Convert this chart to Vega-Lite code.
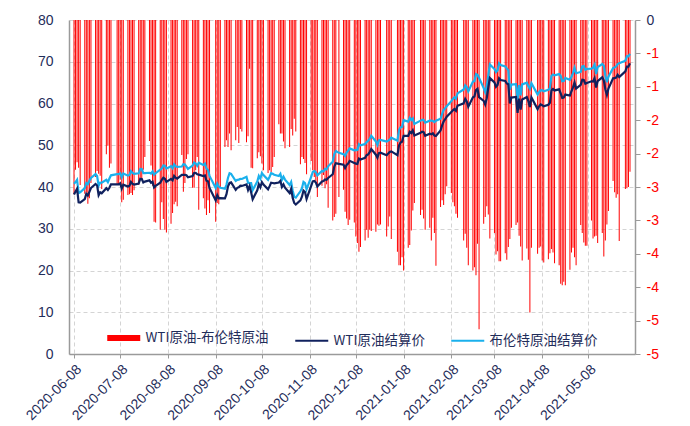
{
  "$schema": "https://vega.github.io/schema/vega-lite/v6.json",
  "width": 566,
  "height": 334,
  "autosize": "none",
  "padding": {"left": 69, "top": 20, "right": 55, "bottom": 72},
  "background": "white",
  "config": {
    "view": {"stroke": null},
    "font": "Liberation Sans",
    "locale": {"number": {"decimal": ".", "thousands": ",", "grouping": [3], "currency": ["$", ""], "minus": "-"}}
  },
  "data": {"values": [
    {"d":"2020-06-08","w":38.19,"b":40.80,"s":-2.61},
    {"d":"2020-06-09","w":38.94,"b":41.18,"s":-2.24},
    {"d":"2020-06-10","w":39.60,"b":41.73,"s":-2.13},
    {"d":"2020-06-11","w":36.34,"b":38.55,"s":-2.21},
    {"d":"2020-06-12","w":36.26,"b":38.73,"s":-2.47},
    {"d":"2020-06-15","w":37.12,"b":39.72,"s":-2.60},
    {"d":"2020-06-16","w":38.38,"b":40.96,"s":-2.58},
    {"d":"2020-06-17","w":37.96,"b":40.71,"s":-2.75},
    {"d":"2020-06-18","w":38.84,"b":41.51,"s":-2.67},
    {"d":"2020-06-19","w":39.75,"b":42.19,"s":-2.44},
    {"d":"2020-06-22","w":40.73,"b":43.08,"s":-2.35},
    {"d":"2020-06-23","w":40.37,"b":42.63,"s":-2.26},
    {"d":"2020-06-24","w":38.01,"b":40.31,"s":-2.30},
    {"d":"2020-06-25","w":38.72,"b":41.05,"s":-2.33},
    {"d":"2020-06-26","w":38.49,"b":41.02,"s":-2.53},
    {"d":"2020-06-29","w":39.70,"b":41.71,"s":-2.01},
    {"d":"2020-06-30","w":39.27,"b":41.15,"s":-1.88},
    {"d":"2020-07-01","w":39.82,"b":42.03,"s":-2.21},
    {"d":"2020-07-02","w":40.65,"b":42.80,"s":-2.15},
    {"d":"2020-07-06","w":40.63,"b":43.10,"s":-2.47},
    {"d":"2020-07-07","w":40.62,"b":43.08,"s":-2.46},
    {"d":"2020-07-08","w":40.90,"b":43.29,"s":-2.39},
    {"d":"2020-07-09","w":39.62,"b":42.35,"s":-2.73},
    {"d":"2020-07-10","w":40.55,"b":43.24,"s":-2.69},
    {"d":"2020-07-13","w":40.10,"b":42.72,"s":-2.62},
    {"d":"2020-07-14","w":40.29,"b":42.90,"s":-2.61},
    {"d":"2020-07-15","w":41.20,"b":43.79,"s":-2.59},
    {"d":"2020-07-16","w":40.75,"b":43.37,"s":-2.62},
    {"d":"2020-07-17","w":40.59,"b":43.14,"s":-2.55},
    {"d":"2020-07-20","w":40.81,"b":43.28,"s":-2.47},
    {"d":"2020-07-21","w":41.96,"b":44.32,"s":-2.36},
    {"d":"2020-07-22","w":41.90,"b":44.29,"s":-2.39},
    {"d":"2020-07-23","w":41.07,"b":43.31,"s":-2.24},
    {"d":"2020-07-24","w":41.29,"b":43.34,"s":-2.05},
    {"d":"2020-07-27","w":41.60,"b":43.41,"s":-1.81},
    {"d":"2020-07-28","w":41.04,"b":43.22,"s":-2.18},
    {"d":"2020-07-29","w":41.27,"b":43.75,"s":-2.48},
    {"d":"2020-07-30","w":39.92,"b":42.94,"s":-3.02},
    {"d":"2020-07-31","w":40.27,"b":43.30,"s":-3.03},
    {"d":"2020-08-03","w":41.01,"b":44.15,"s":-3.14},
    {"d":"2020-08-04","w":41.70,"b":44.43,"s":-2.73},
    {"d":"2020-08-05","w":42.19,"b":45.17,"s":-2.98},
    {"d":"2020-08-06","w":41.95,"b":45.09,"s":-3.14},
    {"d":"2020-08-07","w":41.22,"b":44.40,"s":-3.18},
    {"d":"2020-08-10","w":41.94,"b":44.99,"s":-3.05},
    {"d":"2020-08-11","w":41.61,"b":44.50,"s":-2.89},
    {"d":"2020-08-12","w":42.67,"b":45.43,"s":-2.76},
    {"d":"2020-08-13","w":42.24,"b":44.96,"s":-2.72},
    {"d":"2020-08-14","w":42.01,"b":44.80,"s":-2.79},
    {"d":"2020-08-17","w":42.89,"b":44.91,"s":-2.02},
    {"d":"2020-08-18","w":42.89,"b":45.46,"s":-2.57},
    {"d":"2020-08-19","w":42.93,"b":45.37,"s":-2.44},
    {"d":"2020-08-20","w":42.82,"b":44.90,"s":-2.08},
    {"d":"2020-08-21","w":42.34,"b":44.35,"s":-2.01},
    {"d":"2020-08-24","w":42.62,"b":45.13,"s":-2.51},
    {"d":"2020-08-25","w":43.35,"b":45.86,"s":-2.51},
    {"d":"2020-08-26","w":43.39,"b":45.64,"s":-2.25},
    {"d":"2020-08-27","w":43.04,"b":45.09,"s":-2.05},
    {"d":"2020-08-28","w":42.97,"b":45.81,"s":-2.84},
    {"d":"2020-08-31","w":42.61,"b":45.28,"s":-2.67},
    {"d":"2020-09-01","w":42.76,"b":45.58,"s":-2.82},
    {"d":"2020-09-02","w":41.51,"b":44.43,"s":-2.92},
    {"d":"2020-09-03","w":41.37,"b":44.07,"s":-2.70},
    {"d":"2020-09-04","w":39.77,"b":42.66,"s":-2.89},
    {"d":"2020-09-08","w":36.76,"b":39.78,"s":-3.02},
    {"d":"2020-09-09","w":38.05,"b":40.79,"s":-2.74},
    {"d":"2020-09-10","w":37.30,"b":40.06,"s":-2.76},
    {"d":"2020-09-11","w":37.33,"b":39.83,"s":-2.50},
    {"d":"2020-09-14","w":37.26,"b":39.61,"s":-1.90},
    {"d":"2020-09-15","w":38.28,"b":40.53,"s":-1.80},
    {"d":"2020-09-16","w":40.16,"b":42.22,"s":-1.90},
    {"d":"2020-09-17","w":40.97,"b":43.30,"s":-1.70},
    {"d":"2020-09-18","w":41.11,"b":43.15,"s":-1.95},
    {"d":"2020-09-21","w":39.31,"b":41.44,"s":-1.80},
    {"d":"2020-09-22","w":39.80,"b":41.72,"s":-1.60},
    {"d":"2020-09-23","w":39.93,"b":41.77,"s":-1.84},
    {"d":"2020-09-24","w":40.31,"b":41.94,"s":-1.63},
    {"d":"2020-09-25","w":40.25,"b":41.92,"s":-1.67},
    {"d":"2020-09-28","w":40.60,"b":42.43,"s":-1.83},
    {"d":"2020-09-29","w":39.29,"b":41.03,"s":-1.74},
    {"d":"2020-09-30","w":40.22,"b":40.95,"s":-0.73},
    {"d":"2020-10-01","w":38.72,"b":40.93,"s":-2.21},
    {"d":"2020-10-02","w":37.05,"b":39.27,"s":-2.22},
    {"d":"2020-10-05","w":39.22,"b":41.29,"s":-2.07},
    {"d":"2020-10-06","w":40.67,"b":42.65,"s":-1.98},
    {"d":"2020-10-07","w":39.95,"b":41.99,"s":-2.04},
    {"d":"2020-10-08","w":41.19,"b":43.34,"s":-2.15},
    {"d":"2020-10-09","w":40.60,"b":42.85,"s":-2.25},
    {"d":"2020-10-12","w":39.43,"b":41.72,"s":-2.29},
    {"d":"2020-10-13","w":40.20,"b":42.45,"s":-2.25},
    {"d":"2020-10-14","w":41.04,"b":43.32,"s":-2.28},
    {"d":"2020-10-15","w":40.96,"b":43.16,"s":-2.20},
    {"d":"2020-10-16","w":40.88,"b":42.93,"s":-2.05},
    {"d":"2020-10-19","w":41.06,"b":42.62,"s":-1.56},
    {"d":"2020-10-20","w":41.46,"b":43.16,"s":-1.70},
    {"d":"2020-10-21","w":40.03,"b":41.73,"s":-1.70},
    {"d":"2020-10-22","w":40.64,"b":42.46,"s":-1.82},
    {"d":"2020-10-23","w":39.85,"b":41.77,"s":-1.92},
    {"d":"2020-10-26","w":38.56,"b":40.46,"s":-1.90},
    {"d":"2020-10-27","w":39.57,"b":41.20,"s":-1.63},
    {"d":"2020-10-28","w":37.39,"b":39.12,"s":-1.73},
    {"d":"2020-10-29","w":36.17,"b":37.65,"s":-1.48},
    {"d":"2020-10-30","w":35.79,"b":37.46,"s":-1.67},
    {"d":"2020-11-02","w":36.81,"b":38.97,"s":-2.16},
    {"d":"2020-11-03","w":37.66,"b":39.71,"s":-2.05},
    {"d":"2020-11-04","w":39.15,"b":41.23,"s":-2.08},
    {"d":"2020-11-05","w":38.79,"b":40.93,"s":-2.14},
    {"d":"2020-11-06","w":37.14,"b":39.45,"s":-2.31},
    {"d":"2020-11-09","w":40.29,"b":42.40,"s":-2.11},
    {"d":"2020-11-10","w":41.36,"b":43.61,"s":-2.25},
    {"d":"2020-11-11","w":41.45,"b":43.80,"s":-2.35},
    {"d":"2020-11-12","w":41.12,"b":43.53,"s":-2.41},
    {"d":"2020-11-13","w":40.13,"b":42.78,"s":-2.65},
    {"d":"2020-11-16","w":41.34,"b":43.82,"s":-2.48},
    {"d":"2020-11-17","w":41.43,"b":43.75,"s":-2.32},
    {"d":"2020-11-18","w":41.82,"b":44.34,"s":-2.52},
    {"d":"2020-11-19","w":41.74,"b":44.20,"s":-2.46},
    {"d":"2020-11-20","w":42.15,"b":44.96,"s":-2.81},
    {"d":"2020-11-23","w":43.06,"b":46.06,"s":-3.00},
    {"d":"2020-11-24","w":44.91,"b":47.86,"s":-2.95},
    {"d":"2020-11-25","w":45.71,"b":48.61,"s":-2.90},
    {"d":"2020-11-27","w":45.53,"b":48.18,"s":-2.65},
    {"d":"2020-11-30","w":45.34,"b":47.88,"s":-2.54},
    {"d":"2020-12-01","w":44.55,"b":47.42,"s":-2.87},
    {"d":"2020-12-02","w":45.28,"b":48.25,"s":-2.97},
    {"d":"2020-12-03","w":45.64,"b":48.71,"s":-3.07},
    {"d":"2020-12-04","w":46.26,"b":49.25,"s":-2.99},
    {"d":"2020-12-07","w":45.76,"b":48.79,"s":-3.03},
    {"d":"2020-12-08","w":45.60,"b":48.84,"s":-3.24},
    {"d":"2020-12-09","w":45.52,"b":48.86,"s":-3.34},
    {"d":"2020-12-10","w":46.78,"b":50.25,"s":-3.47},
    {"d":"2020-12-11","w":46.57,"b":49.97,"s":-3.40},
    {"d":"2020-12-14","w":46.99,"b":50.29,"s":-3.30},
    {"d":"2020-12-15","w":47.62,"b":50.76,"s":-3.14},
    {"d":"2020-12-16","w":47.82,"b":51.08,"s":-3.26},
    {"d":"2020-12-17","w":48.36,"b":51.50,"s":-3.14},
    {"d":"2020-12-18","w":49.10,"b":52.26,"s":-3.16},
    {"d":"2020-12-21","w":47.74,"b":50.91,"s":-3.17},
    {"d":"2020-12-22","w":47.02,"b":50.08,"s":-3.06},
    {"d":"2020-12-23","w":48.12,"b":51.20,"s":-3.08},
    {"d":"2020-12-24","w":48.23,"b":51.29,"s":-3.06},
    {"d":"2020-12-28","w":47.62,"b":50.86,"s":-3.24},
    {"d":"2020-12-29","w":48.00,"b":51.09,"s":-3.09},
    {"d":"2020-12-30","w":48.40,"b":51.34,"s":-2.94},
    {"d":"2020-12-31","w":48.52,"b":51.80,"s":-3.28},
    {"d":"2021-01-04","w":47.62,"b":51.09,"s":-3.47},
    {"d":"2021-01-05","w":49.93,"b":53.60,"s":-3.67},
    {"d":"2021-01-06","w":50.63,"b":54.30,"s":-3.67},
    {"d":"2021-01-07","w":50.83,"b":54.38,"s":-3.55},
    {"d":"2021-01-08","w":52.24,"b":55.99,"s":-3.75},
    {"d":"2021-01-11","w":52.25,"b":55.66,"s":-3.41},
    {"d":"2021-01-12","w":53.21,"b":56.58,"s":-3.37},
    {"d":"2021-01-13","w":52.91,"b":56.06,"s":-3.15},
    {"d":"2021-01-14","w":53.57,"b":56.42,"s":-2.85},
    {"d":"2021-01-15","w":52.36,"b":55.10,"s":-2.74},
    {"d":"2021-01-19","w":52.98,"b":55.90,"s":-2.92},
    {"d":"2021-01-20","w":53.24,"b":56.08,"s":-2.84},
    {"d":"2021-01-21","w":53.13,"b":56.10,"s":-2.97},
    {"d":"2021-01-22","w":52.27,"b":55.41,"s":-3.14},
    {"d":"2021-01-25","w":52.77,"b":55.88,"s":-3.11},
    {"d":"2021-01-26","w":52.61,"b":55.91,"s":-3.30},
    {"d":"2021-01-27","w":52.85,"b":55.81,"s":-2.96},
    {"d":"2021-01-28","w":52.34,"b":55.53,"s":-3.19},
    {"d":"2021-01-29","w":52.20,"b":55.88,"s":-3.68},
    {"d":"2021-02-01","w":53.55,"b":56.35,"s":-2.80},
    {"d":"2021-02-02","w":54.76,"b":57.46,"s":-2.70},
    {"d":"2021-02-03","w":55.69,"b":58.46,"s":-2.77},
    {"d":"2021-02-04","w":56.23,"b":58.84,"s":-2.61},
    {"d":"2021-02-05","w":56.85,"b":59.34,"s":-2.49},
    {"d":"2021-02-08","w":57.97,"b":60.56,"s":-2.59},
    {"d":"2021-02-09","w":58.36,"b":61.09,"s":-2.73},
    {"d":"2021-02-10","w":58.68,"b":61.47,"s":-2.79},
    {"d":"2021-02-11","w":58.24,"b":61.14,"s":-2.90},
    {"d":"2021-02-12","w":59.47,"b":62.43,"s":-2.96},
    {"d":"2021-02-16","w":60.05,"b":63.35,"s":-3.30},
    {"d":"2021-02-17","w":61.14,"b":64.34,"s":-3.20},
    {"d":"2021-02-18","w":60.52,"b":63.93,"s":-3.41},
    {"d":"2021-02-19","w":59.24,"b":62.91,"s":-3.67},
    {"d":"2021-02-22","w":61.49,"b":65.24,"s":-3.75},
    {"d":"2021-02-23","w":61.67,"b":65.37,"s":-3.70},
    {"d":"2021-02-24","w":63.22,"b":67.04,"s":-3.82},
    {"d":"2021-02-25","w":63.53,"b":66.88,"s":-3.35},
    {"d":"2021-02-26","w":61.50,"b":66.13,"s":-4.63},
    {"d":"2021-03-01","w":60.64,"b":63.69,"s":-3.05},
    {"d":"2021-03-02","w":59.75,"b":62.70,"s":-2.95},
    {"d":"2021-03-03","w":61.28,"b":64.07,"s":-2.79},
    {"d":"2021-03-04","w":63.83,"b":66.74,"s":-2.91},
    {"d":"2021-03-05","w":66.09,"b":69.36,"s":-3.27},
    {"d":"2021-03-08","w":65.05,"b":68.24,"s":-3.19},
    {"d":"2021-03-09","w":64.01,"b":67.52,"s":-3.51},
    {"d":"2021-03-10","w":64.44,"b":67.90,"s":-3.46},
    {"d":"2021-03-11","w":66.02,"b":69.63,"s":-3.61},
    {"d":"2021-03-12","w":65.61,"b":69.22,"s":-3.61},
    {"d":"2021-03-15","w":65.39,"b":68.88,"s":-3.49},
    {"d":"2021-03-16","w":64.80,"b":68.39,"s":-3.59},
    {"d":"2021-03-17","w":64.60,"b":68.00,"s":-3.40},
    {"d":"2021-03-18","w":60.00,"b":63.28,"s":-3.28},
    {"d":"2021-03-19","w":61.42,"b":64.53,"s":-3.11},
    {"d":"2021-03-22","w":61.55,"b":64.62,"s":-3.07},
    {"d":"2021-03-23","w":57.76,"b":60.79,"s":-3.03},
    {"d":"2021-03-24","w":61.18,"b":64.41,"s":-3.23},
    {"d":"2021-03-25","w":58.56,"b":61.95,"s":-3.39},
    {"d":"2021-03-26","w":60.97,"b":64.57,"s":-3.60},
    {"d":"2021-03-29","w":61.56,"b":64.98,"s":-3.42},
    {"d":"2021-03-30","w":60.55,"b":64.14,"s":-3.59},
    {"d":"2021-03-31","w":59.16,"b":63.54,"s":-4.38},
    {"d":"2021-04-01","w":61.45,"b":64.86,"s":-3.41},
    {"d":"2021-04-05","w":58.65,"b":62.15,"s":-3.50},
    {"d":"2021-04-06","w":59.33,"b":62.74,"s":-3.41},
    {"d":"2021-04-07","w":59.77,"b":63.16,"s":-3.39},
    {"d":"2021-04-08","w":59.60,"b":63.20,"s":-3.60},
    {"d":"2021-04-09","w":59.32,"b":62.95,"s":-3.63},
    {"d":"2021-04-12","w":59.70,"b":63.28,"s":-3.58},
    {"d":"2021-04-13","w":60.18,"b":63.67,"s":-3.49},
    {"d":"2021-04-14","w":63.15,"b":66.58,"s":-3.43},
    {"d":"2021-04-15","w":63.46,"b":66.94,"s":-3.48},
    {"d":"2021-04-16","w":63.13,"b":66.77,"s":-3.64},
    {"d":"2021-04-19","w":63.38,"b":67.05,"s":-3.67},
    {"d":"2021-04-20","w":62.44,"b":66.57,"s":-3.95},
    {"d":"2021-04-21","w":61.35,"b":65.32,"s":-3.97},
    {"d":"2021-04-22","w":61.43,"b":65.40,"s":-3.92},
    {"d":"2021-04-23","w":62.14,"b":66.11,"s":-3.97},
    {"d":"2021-04-26","w":61.91,"b":65.65,"s":-3.74},
    {"d":"2021-04-27","w":62.94,"b":66.42,"s":-3.48},
    {"d":"2021-04-28","w":63.86,"b":67.27,"s":-3.41},
    {"d":"2021-04-29","w":65.01,"b":68.56,"s":-3.55},
    {"d":"2021-04-30","w":63.58,"b":67.25,"s":-3.67},
    {"d":"2021-05-03","w":64.49,"b":67.56,"s":-3.07},
    {"d":"2021-05-04","w":65.69,"b":68.88,"s":-3.19},
    {"d":"2021-05-05","w":65.63,"b":68.96,"s":-3.33},
    {"d":"2021-05-06","w":64.71,"b":68.09,"s":-3.38},
    {"d":"2021-05-07","w":64.90,"b":68.28,"s":-3.38},
    {"d":"2021-05-10","w":65.32,"b":68.32,"s":-3.00},
    {"d":"2021-05-11","w":65.28,"b":68.55,"s":-3.27},
    {"d":"2021-05-12","w":66.08,"b":69.32,"s":-3.24},
    {"d":"2021-05-13","w":63.82,"b":67.05,"s":-3.23},
    {"d":"2021-05-14","w":65.37,"b":68.71,"s":-3.34},
    {"d":"2021-05-17","w":66.27,"b":69.46,"s":-3.19},
    {"d":"2021-05-18","w":65.49,"b":69.03,"s":-3.54},
    {"d":"2021-05-19","w":63.36,"b":66.66,"s":-3.30},
    {"d":"2021-05-20","w":62.05,"b":65.11,"s":-3.06},
    {"d":"2021-05-21","w":63.58,"b":66.44,"s":-2.86},
    {"d":"2021-05-24","w":66.05,"b":68.46,"s":-2.41},
    {"d":"2021-05-25","w":66.07,"b":68.65,"s":-2.58},
    {"d":"2021-05-26","w":66.21,"b":68.87,"s":-2.66},
    {"d":"2021-05-27","w":66.85,"b":69.46,"s":-2.61},
    {"d":"2021-05-28","w":66.32,"b":69.63,"s":-3.31},
    {"d":"2021-06-01","w":67.72,"b":70.25,"s":-2.53},
    {"d":"2021-06-02","w":68.83,"b":71.35,"s":-2.52},
    {"d":"2021-06-03","w":68.81,"b":71.31,"s":-2.50},
    {"d":"2021-06-04","w":69.62,"b":71.89,"s":-2.27}
  ]},
  "encoding": {
    "x": {
      "field": "d", "type": "temporal",
      "scale": {"type": "utc", "domain": [{"year": 2020, "month": 6, "date": 8, "utc": true}, {"year": 2021, "month": 6, "date": 4, "utc": true}]},
      "axis": {
        "title": null,
        "format": "%Y-%m-%d",
        "values": [
          {"year": 2020, "month": 6, "date": 8, "utc": true},
          {"year": 2020, "month": 7, "date": 8, "utc": true},
          {"year": 2020, "month": 8, "date": 8, "utc": true},
          {"year": 2020, "month": 9, "date": 8, "utc": true},
          {"year": 2020, "month": 10, "date": 8, "utc": true},
          {"year": 2020, "month": 11, "date": 8, "utc": true},
          {"year": 2020, "month": 12, "date": 8, "utc": true},
          {"year": 2021, "month": 1, "date": 8, "utc": true},
          {"year": 2021, "month": 2, "date": 8, "utc": true},
          {"year": 2021, "month": 3, "date": 8, "utc": true},
          {"year": 2021, "month": 4, "date": 8, "utc": true},
          {"year": 2021, "month": 5, "date": 8, "utc": true}
        ],
        "labelAngle": -45,
        "labelOverlap": false,
        "labelFontSize": 14,
        "labelColor": "#1f2d5a",
        "labelPadding": 4,
        "grid": true,
        "gridColor": "#d4d4d4",
        "gridDash": [4, 3],
        "tickColor": "#9a9a9a",
        "tickSize": 4,
        "domainColor": "#9a9a9a",
        "domainWidth": 1.5
      }
    }
  },
  "layer": [
    {
      "mark": {"type": "bar", "width": 1.0},
      "encoding": {
        "y": {
          "field": "s", "type": "quantitative",
          "scale": {"domain": [-5, 0], "nice": false},
          "axis": {
            "orient": "right",
            "title": null,
            "values": [-5, -4.5, -4, -3.5, -3, -2.5, -2, -1.5, -1, -0.5, 0],
            "format": ".0f",
            "grid": false,
            "labelFontSize": 14,
            "labelColor": {"condition": {"test": "datum.value === 0", "value": "#1f2d5a"}, "value": "#ff0000"},
            "labelPadding": 6,
            "tickSize": 5,
            "tickColor": "#9a9a9a",
            "domainColor": "#9a9a9a",
            "domainWidth": 1.5
          }
        },
        "color": {
          "datum": "WTI原油-布伦特原油", "type": "nominal",
          "scale": {"domain": ["WTI原油-布伦特原油", "WTI原油结算价", "布伦特原油结算价"], "range": ["#ff0000", "#10215e", "#1ab0ec"]},
          "legend": {
            "title": null,
            "orient": "none",
            "legendX": 48,
            "legendY": 311,
            "direction": "horizontal",
            "padding": 0,
            "symbolType": "stroke",
            "symbolSize": 1089,
            "symbolStrokeWidth": 2,
            "labelFont": "Noto Sans CJK SC",
            "labelFontSize": 13.5,
            "labelColor": "#1f2d5a",
            "labelOffset": 15,
            "columnPadding": 22,
            "encode": {
              "symbols": {
                "update": {
                  "stroke": {"scale": "color", "field": "value"},
                  "strokeWidth": {"signal": "datum.value === 'WTI原油-布伦特原油' ? 6 : 2"},
                  "opacity": {"value": 1}
                }
              }
            }
          }
        }
      }
    },
    {
      "layer": [
        {
          "mark": {"type": "line", "strokeWidth": 2.2},
          "encoding": {
            "y": {"field": "b", "type": "quantitative"},
            "color": {"datum": "布伦特原油结算价", "type": "nominal"}
          }
        },
        {
          "mark": {"type": "line", "strokeWidth": 2.2},
          "encoding": {
            "y": {"field": "w", "type": "quantitative"},
            "color": {"datum": "WTI原油结算价", "type": "nominal"}
          }
        }
      ],
      "encoding": {
        "y": {
          "type": "quantitative",
          "scale": {"domain": [0, 80], "nice": false},
          "axis": {
            "orient": "left",
            "title": null,
            "values": [0, 10, 20, 30, 40, 50, 60, 70, 80],
            "grid": true,
            "gridColor": "#d4d4d4",
            "gridDash": [4, 3],
            "ticks": false,
            "labelFontSize": 14,
            "labelColor": "#1f2d5a",
            "labelPadding": 16,
            "domainColor": "#9a9a9a",
            "domainWidth": 1.5
          }
        }
      }
    }
  ],
  "resolve": {"scale": {"y": "independent"}}
}
